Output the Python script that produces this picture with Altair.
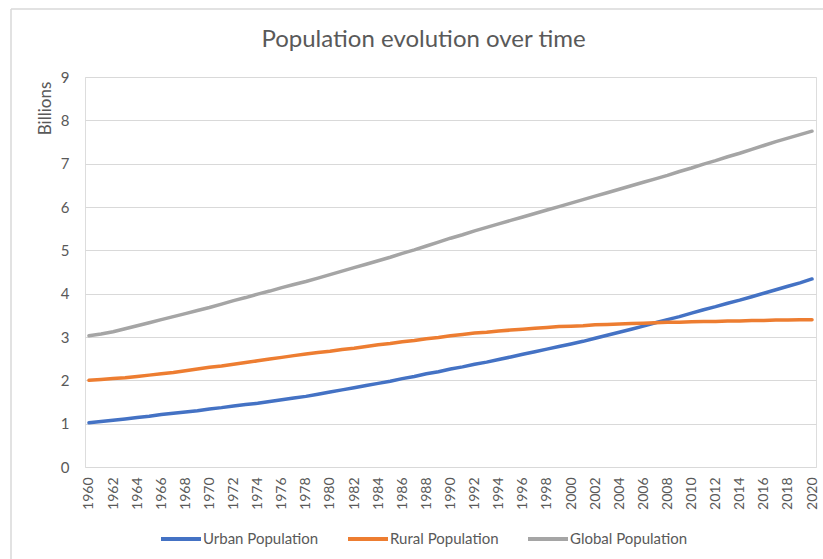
import altair as alt
import pandas as pd

# World population split into urban and rural, in billions
years = list(range(1960, 2021))

urban = [
    1.02, 1.05, 1.08, 1.11, 1.14, 1.17, 1.21, 1.24, 1.27, 1.30,
    1.34, 1.37, 1.41, 1.44, 1.47, 1.51, 1.55, 1.59, 1.63, 1.68,
    1.73, 1.78, 1.83, 1.88, 1.93, 1.98, 2.04, 2.09, 2.15, 2.20,
    2.26, 2.31, 2.37, 2.42, 2.48, 2.54, 2.60, 2.66, 2.72, 2.78,
    2.84, 2.90, 2.97, 3.04, 3.11, 3.18, 3.25, 3.33, 3.40, 3.47,
    3.55, 3.63, 3.70, 3.78, 3.85, 3.93, 4.01, 4.09, 4.17, 4.25,
    4.34,
]

rural = [
    2.00, 2.02, 2.04, 2.06, 2.09, 2.12, 2.15, 2.18, 2.22, 2.26,
    2.30, 2.33, 2.37, 2.41, 2.45, 2.49, 2.53, 2.57, 2.61, 2.64,
    2.67, 2.71, 2.74, 2.78, 2.82, 2.85, 2.89, 2.92, 2.96, 2.99,
    3.03, 3.06, 3.09, 3.11, 3.14, 3.16, 3.18, 3.20, 3.22, 3.24,
    3.25, 3.26, 3.28, 3.29, 3.30, 3.31, 3.32, 3.33, 3.34, 3.34,
    3.35, 3.36, 3.36, 3.37, 3.37, 3.38, 3.38, 3.39, 3.39, 3.40,
    3.40,
]

world = [
    3.03, 3.07, 3.12, 3.19, 3.26, 3.33, 3.40, 3.47, 3.54, 3.61,
    3.68, 3.76, 3.84, 3.91, 3.99, 4.06, 4.14, 4.21, 4.28, 4.36,
    4.44, 4.52, 4.60, 4.68, 4.76, 4.84, 4.93, 5.01, 5.10, 5.19,
    5.28, 5.36, 5.45, 5.53, 5.61, 5.69, 5.77, 5.85, 5.93, 6.01,
    6.09, 6.17, 6.25, 6.33, 6.41, 6.49, 6.57, 6.65, 6.73, 6.82,
    6.90, 6.99, 7.07, 7.16, 7.24, 7.33, 7.42, 7.51, 7.59, 7.67,
    7.75,
]

series_names = ["Urban Population", "Rural Population", "Global Population"]
series_colors = ["#4472C4", "#ED7D31", "#A5A5A5"]
tick_years = years[::2]

rows = []
for name, values in zip(series_names, [urban, rural, world]):
    for yr, v in zip(years, values):
        rows.append({"year": yr, "population": v, "series": name})
df = pd.DataFrame(rows)

FONT = "Lato"
TEXT = "#595959"
GRID = "#D9D9D9"

lines = alt.Chart(df).mark_line(strokeWidth=3.5, strokeCap="round", strokeJoin="round").encode(
    x=alt.X(
        "year:Q",
        scale=alt.Scale(domain=[1959.67, 2020.33], nice=False, zero=False),
        axis=alt.Axis(
            values=tick_years, format="d", labelAngle=-90, labelPadding=10,
            ticks=False, domain=False, grid=False, title=None,
            labelFont=FONT, labelFontSize=14, labelColor=TEXT,
        ),
    ),
    y=alt.Y(
        "population:Q",
        scale=alt.Scale(domain=[0, 9], nice=False),
        axis=alt.Axis(
            values=list(range(0, 10)), ticks=False, domain=False,
            gridColor=GRID, gridWidth=1, labelPadding=16,
            labelFont=FONT, labelFontSize=15, labelColor=TEXT,
            title="Billions", titleFont=FONT, titleFontSize=17, titleColor=TEXT,
            titleFontWeight="normal", titleAngle=-90, titleX=-40, titleY=31,
            titleAlign="center", titleBaseline="middle",
        ),
    ),
    color=alt.Color(
        "series:N",
        scale=alt.Scale(domain=series_names, range=series_colors),
        sort=series_names,
        legend=alt.Legend(
            title=None, orient="none", direction="horizontal",
            legendX=74, legendY=440,
            symbolType="stroke", symbolSize=1600, symbolStrokeWidth=4,
            labelFont=FONT, labelFontSize=15, labelColor=TEXT,
            labelOffset=0, columnPadding=21,
        ),
    ),
    order="year:Q",
)

# light frame around the chart area
frame_df = pd.DataFrame({"k": [0]})
left_edge = alt.Chart(frame_df).mark_rule(color=GRID, strokeWidth=1.5).encode(
    x=alt.value(-74), y=alt.value(-68), y2=alt.value(482)
)
top_edge = alt.Chart(frame_df).mark_rule(color=GRID, strokeWidth=1.5).encode(
    x=alt.value(-74), x2=alt.value(738), y=alt.value(-68)
)

chart = alt.layer(lines, left_edge, top_edge).properties(
    width=731,
    height=390,
    title=alt.TitleParams(
        "Population evolution over time",
        font=FONT, fontSize=24, fontWeight="normal", color=TEXT,
        anchor="middle", frame="group", dx=-27, offset=-63, baseline="alphabetic",
    ),
    autosize=alt.AutoSizeParams(type="none"),
    padding={"left": 85, "top": 77, "right": 7, "bottom": 92},
).configure_view(stroke=None).configure(background="white")

chart.save("out.html", embed_options={"renderer": "svg", "actions": False})
